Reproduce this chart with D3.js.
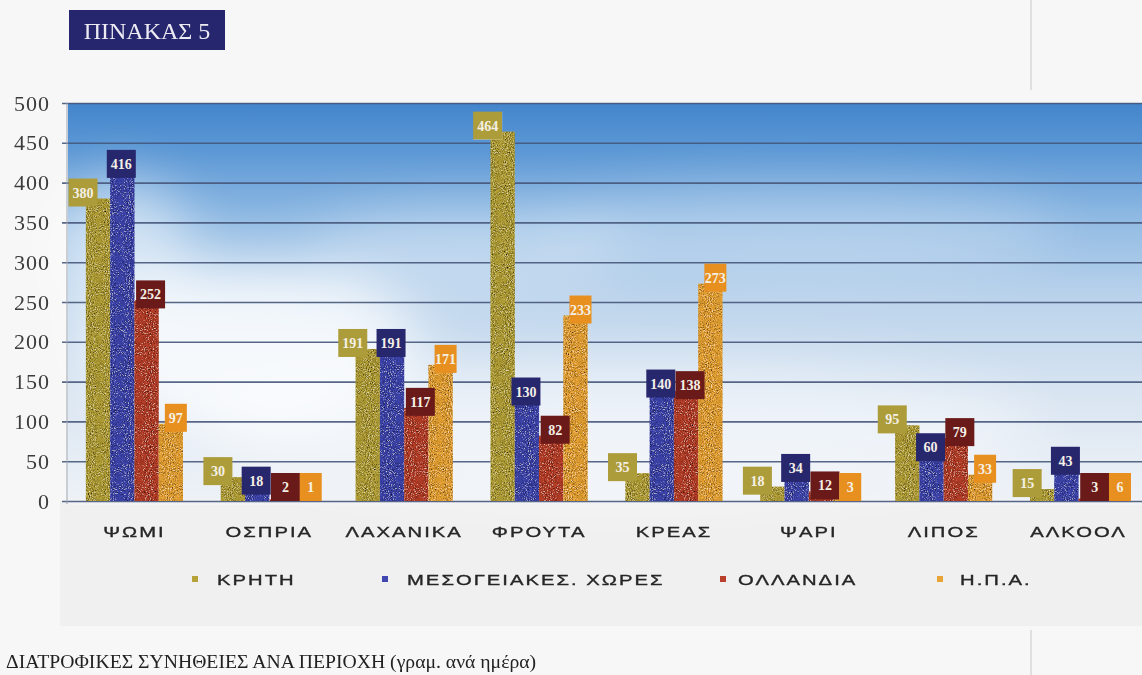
<!DOCTYPE html>
<html>
<head>
<meta charset="utf-8">
<script src="https://cdn.jsdelivr.net/npm/d3@7"></script>
<style>
  html, body { margin: 0; padding: 0; background: #f6f6f6; }
  svg { display: block; }
</style>
</head>
<body>
<svg id="chart" width="1142" height="675"></svg>
<script>
// ---------- data ----------
const categories = ["ΨΩΜΙ", "ΟΣΠΡΙΑ", "ΛΑΧΑΝΙΚΑ", "ΦΡΟΥΤΑ", "ΚΡΕΑΣ", "ΨΑΡΙ", "ΛΙΠΟΣ", "ΑΛΚΟΟΛ"];
const seriesNames = ["ΚΡΗΤΗ", "ΜΕΣΟΓΕΙΑΚΕΣ. ΧΩΡΕΣ", "ΟΛΛΑΝΔΙΑ", "Η.Π.Α."];
const crete = [380, 30, 191, 464, 35, 18, 95, 15];
const mediterranean = [416, 18, 191, 130, 140, 34, 60, 43];
const netherlands = [252, 2, 117, 82, 138, 12, 79, 3];
const usa = [97, 1, 171, 233, 273, 3, 33, 6];
const yTicks = [0, 50, 100, 150, 200, 250, 300, 350, 400, 450, 500];
const titleText = "ΠΙΝΑΚΑΣ 5";
const captionText = "ΔΙΑΤΡΟΦΙΚΕΣ ΣΥΝΗΘΕΙΕΣ ΑΝΑ ΠΕΡΙΟΧΗ (γραμ. ανά ημέρα)";

// ---------- styles ----------
const seriesValues = [crete, mediterranean, netherlands, usa];
const barColors = ["#b5a238", "#4146b0", "#b9402a", "#e9a436"];
const boxColors = ["#ad9d3a", "#27276e", "#6b1a1a", "#e8901f"];
const boxWidths = [29, 29, 29, 22];
const boxShift = [-15, -1, 4, 5];      // label box centre relative to bar centre
const legendX = [195, 385, 723, 940];
const legendTextGap = [22, 22, 15, 20];
const sansFont = "Liberation Sans, Arial, sans-serif";
const serifFont = "Liberation Serif, Times New Roman, serif";
const wideScale = 1.35;

const svg = d3.select("#chart");
const W = 1142, H = 675;
const plot = { left: 68, right: 1142, top: 103, bottom: 501 };

const defs = svg.append("defs");
const bg = defs.append("linearGradient").attr("id", "sky").attr("x1", 0).attr("y1", 0).attr("x2", 0).attr("y2", 1);
[[0, "#4385cc"], [0.12, "#5c98d5"], [0.3, "#93bce4"], [0.5, "#bcd4ec"], [0.75, "#dbe6f2"], [1, "#eef2f7"]]
  .forEach(([o, c]) => bg.append("stop").attr("offset", o).attr("stop-color", c));

const blur = defs.append("filter").attr("id", "cloud").attr("x", "-50%").attr("y", "-50%").attr("width", "200%").attr("height", "200%");
blur.append("feGaussianBlur").attr("stdDeviation", 28);

const grain = defs.append("filter").attr("id", "grain").attr("x", 0).attr("y", 0).attr("width", "100%").attr("height", "100%");
grain.append("feTurbulence").attr("type", "fractalNoise").attr("baseFrequency", 0.95).attr("numOctaves", 2).attr("seed", 4).attr("result", "noise");
grain.append("feColorMatrix").attr("in", "noise").attr("type", "matrix")
  .attr("values", "0 0 0 0 0  0 0 0 0 0  0 0 0 0 0  2.2 0 0 0 -0.95").attr("result", "dark");
grain.append("feComposite").attr("in", "dark").attr("in2", "SourceGraphic").attr("operator", "in").attr("result", "darkIn");
grain.append("feColorMatrix").attr("in", "noise").attr("type", "matrix")
  .attr("values", "0 0 0 0 1  0 0 0 0 1  0 0 0 0 0.85  -2.2 0 0 0 0.9").attr("result", "light");
grain.append("feComposite").attr("in", "light").attr("in2", "SourceGraphic").attr("operator", "in").attr("result", "lightIn");
const merge = grain.append("feMerge");
merge.append("feMergeNode").attr("in", "SourceGraphic");
merge.append("feMergeNode").attr("in", "darkIn");
merge.append("feMergeNode").attr("in", "lightIn");

// page
svg.append("rect").attr("width", W).attr("height", H).attr("fill", "#f7f7f7");
svg.append("rect").attr("x", 60).attr("y", plot.bottom).attr("width", W - 60).attr("height", 125).attr("fill", "#f0f0f0");
svg.append("line").attr("x1", 1031).attr("x2", 1031).attr("y1", 0).attr("y2", 90).attr("stroke", "#c8c8c8").attr("stroke-width", 1);
svg.append("line").attr("x1", 1031).attr("x2", 1031).attr("y1", 630).attr("y2", 675).attr("stroke", "#c8c8c8").attr("stroke-width", 1);

// scales
const x = d3.scaleBand().domain(categories).range([67, 1146]).paddingInner(0.28).paddingOuter(0.14);
const xs = d3.scaleBand().domain(d3.range(seriesNames.length)).range([0, x.bandwidth()]);
const y = d3.scaleLinear().domain([0, 500]).range([plot.bottom, plot.top]);

// sky
svg.append("rect").attr("x", plot.left).attr("y", plot.top).attr("width", plot.right - plot.left)
  .attr("height", plot.bottom - plot.top).attr("fill", "url(#sky)");
const clouds = svg.append("g").attr("filter", "url(#cloud)");
clouds.append("ellipse").attr("cx", 250).attr("cy", 350).attr("rx", 170).attr("ry", 85).attr("fill", "#ffffff").attr("opacity", 0.8);
clouds.append("ellipse").attr("cx", 120).attr("cy", 250).attr("rx", 70).attr("ry", 70).attr("fill", "#ffffff").attr("opacity", 0.55);
clouds.append("ellipse").attr("cx", 470).attr("cy", 250).attr("rx", 160).attr("ry", 40).attr("fill", "#ffffff").attr("opacity", 0.35);
clouds.append("ellipse").attr("cx", 800).attr("cy", 230).attr("rx", 260).attr("ry", 45).attr("fill", "#ffffff").attr("opacity", 0.25);
clouds.append("ellipse").attr("cx", 620).attr("cy", 430).attr("rx", 420).attr("ry", 70).attr("fill", "#ffffff").attr("opacity", 0.45);
svg.append("rect").attr("x", plot.left).attr("y", plot.bottom - 2).attr("width", plot.right - plot.left).attr("height", 6).attr("fill", "#f1f3f6");

// grid + y axis
const yAxis = d3.axisLeft(y).tickValues(yTicks).tickSize(-(plot.right - 62)).tickPadding(10).tickFormat(d3.format("d"));
const ga = svg.append("g").attr("transform", `translate(62,0)`).call(yAxis);
ga.select(".domain").remove();
ga.selectAll(".tick line").attr("stroke", "#46577a").attr("stroke-width", 1.6).attr("opacity", 0.9);
ga.selectAll(".tick text").attr("font-family", serifFont).attr("font-size", 22)
  .attr("letter-spacing", "1px").attr("fill", "#3c3c3c").attr("dx", -2);
svg.append("line").attr("x1", 67).attr("x2", 67).attr("y1", plot.top).attr("y2", plot.bottom + 3)
  .attr("stroke", "#9aa3b0").attr("stroke-width", 1);

// bars
const barsG = svg.append("g").attr("filter", "url(#grain)");
seriesValues.forEach((vals, si) => {
  barsG.selectAll(null).data(categories).enter().append("rect")
    .attr("x", c => x(c) + xs(si))
    .attr("y", (c, i) => y(vals[i]))
    .attr("width", xs.bandwidth())
    .attr("height", (c, i) => y(0) - y(vals[i]))
    .attr("fill", barColors[si]);
});

// value labels
const labelsG = svg.append("g");
seriesValues.forEach((vals, si) => {
  const g = labelsG.selectAll(null).data(categories).enter().append("g")
    .attr("transform", (c, i) => {
      const cx = x(c) + xs(si) + xs.bandwidth() / 2 + boxShift[si];
      const top = Math.min(y(vals[i]) - 20, y(0) - 28);
      return `translate(${cx - boxWidths[si] / 2},${top})`;
    });
  g.append("rect").attr("width", boxWidths[si]).attr("height", 28).attr("fill", boxColors[si]);
  g.append("text").attr("x", boxWidths[si] / 2).attr("y", 19).attr("text-anchor", "middle")
    .attr("font-family", serifFont).attr("font-size", 14).attr("font-weight", "bold")
    .attr("fill", "#f4f0e6").text((c, i) => vals[i]);
});

// category labels (wide sans, stretched horizontally)
svg.append("g").selectAll("text").data(categories).enter().append("text")
  .attr("transform", c => `translate(${x(c) + x.bandwidth() / 2},537) scale(${wideScale},1)`)
  .attr("text-anchor", "middle")
  .attr("font-family", sansFont).attr("font-size", 15)
  .attr("letter-spacing", "1.5px")
  .attr("fill", "#262626").attr("stroke", "#262626").attr("stroke-width", 0.35)
  .text(c => c);

// legend
const lg = svg.append("g");
seriesNames.forEach((n, i) => {
  lg.append("rect").attr("x", legendX[i] - 3).attr("y", 576).attr("width", 6).attr("height", 6).attr("fill", barColors[i]);
  lg.append("text").attr("transform", `translate(${legendX[i] + legendTextGap[i]},585) scale(${wideScale},1)`)
    .attr("font-family", sansFont).attr("font-size", 15)
    .attr("letter-spacing", "1.5px").attr("fill", "#262626").attr("stroke", "#262626").attr("stroke-width", 0.35)
    .text(n);
});

// title box
svg.append("rect").attr("x", 69).attr("y", 10).attr("width", 156).attr("height", 40).attr("fill", "#25266e");
svg.append("text").attr("x", 147).attr("y", 39).attr("text-anchor", "middle")
  .attr("font-family", serifFont).attr("font-size", 24)
  .attr("fill", "#ecebf3").text(titleText);

// caption
svg.append("text").attr("x", 6).attr("y", 668)
  .attr("font-family", serifFont).attr("font-size", 19.7)
  .attr("fill", "#222").text(captionText);
</script>
</body>
</html>
